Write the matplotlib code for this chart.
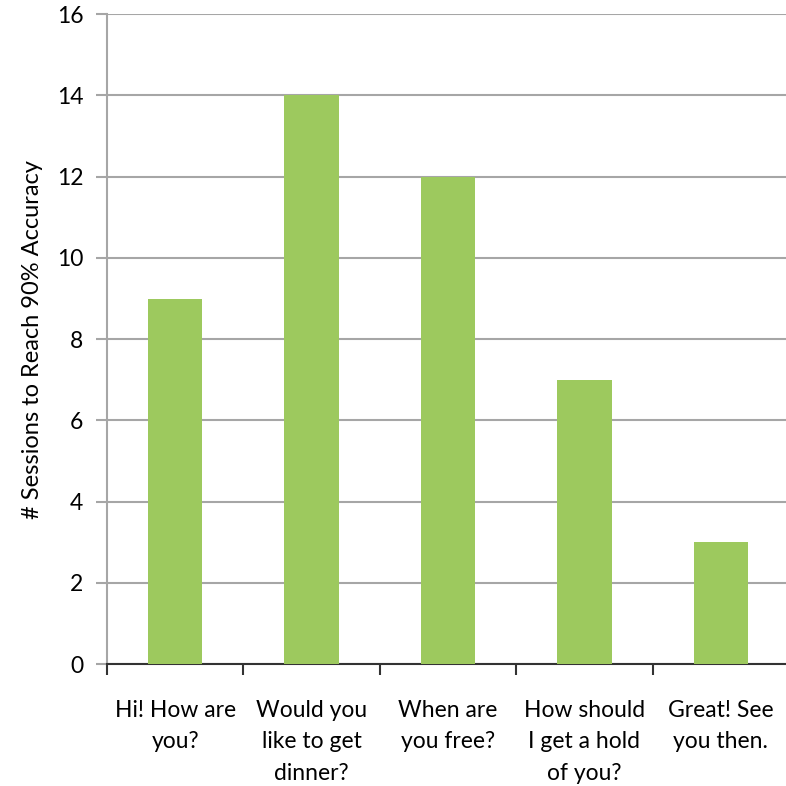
import matplotlib.pyplot as plt
import numpy as np

# dane wykresu
categories = ['Hi! How are\nyou?', 'Would you\nlike to get\ndinner?', 'When are\nyou free?',
              'How should\nI get a hold\nof you?', 'Great! See\nyou then.']
sessions = [9, 14, 12, 7, 3]
yticks = [0, 2, 4, 6, 8, 10, 12, 14, 16]

plt.rcParams['font.family'] = ['Lato', 'DejaVu Sans']

fig = plt.figure(figsize=(7.86, 7.86), dpi=100)
ax = fig.add_axes([0.136, 0.155, 0.868, 0.827])

x = np.arange(len(categories))
ax.bar(x, sessions, width=0.4, color='#9dc95e', zorder=3)

ax.set_ylim(0, 16)
ax.set_xlim(-0.5, len(categories) - 0.5)
ax.set_yticks(yticks)
ax.set_yticklabels([str(v) for v in yticks], fontsize=16.5)
ax.yaxis.grid(True, color='#a6a6a6', linewidth=1.5, zorder=0)
ax.tick_params(axis='y', length=8, width=1.5, color='#a6a6a6', pad=9)

# etykiety kategorii w srodku, kreski na granicach
ax.set_xticks(x)
ax.set_xticklabels(categories, fontsize=16.5, linespacing=1.6)
ax.tick_params(axis='x', which='major', length=0, pad=26)
ax.set_xticks(np.arange(-0.5, len(categories)), minor=True)
ax.tick_params(axis='x', which='minor', length=8, width=1.5, color='#333333')

for s in ['top', 'right']:
    ax.spines[s].set_visible(False)
ax.spines['left'].set_color('#a6a6a6')
ax.spines['left'].set_linewidth(1.5)
ax.spines['bottom'].set_color('#333333')
ax.spines['bottom'].set_linewidth(1.5)

ax.set_ylabel('# Sessions to Reach 90% Accuracy', fontsize=17, labelpad=10)

plt.savefig('out.png', dpi=100)
